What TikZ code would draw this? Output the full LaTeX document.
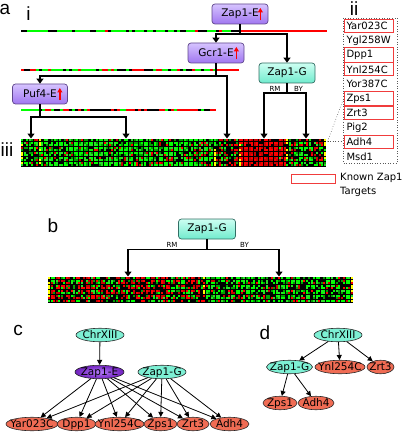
\documentclass[tikz,border=0pt]{standalone}
\usepackage{fontspec}
\setmainfont{DejaVu Sans}
\newfontfamily\lblfont{Liberation Sans}
\usetikzlibrary{arrows.meta,shapes.geometric,calc}

\definecolor{hmR}{RGB}{255,0,0}
\definecolor{hmR2}{RGB}{200,0,0}
\definecolor{hmG}{RGB}{0,255,0}
\definecolor{hmG2}{RGB}{40,225,40}
\definecolor{hmG3}{RGB}{0,160,0}
\definecolor{hmY}{RGB}{255,255,0}
\definecolor{boxEtop}{RGB}{214,196,255}
\definecolor{boxEbot}{RGB}{160,118,240}
\definecolor{boxEdraw}{RGB}{95,70,140}
\definecolor{boxGtop}{RGB}{205,255,242}
\definecolor{boxGbot}{RGB}{112,235,205}
\definecolor{boxGdraw}{RGB}{50,110,100}
\definecolor{ellC}{RGB}{125,240,212}
\definecolor{ellT}{RGB}{240,108,84}
\definecolor{ellPin}{RGB}{180,125,248}
\definecolor{ellPout}{RGB}{112,32,190}
\definecolor{tgtred}{RGB}{240,60,60}

\newcommand\hmreg[6]{% x0, ncols, y0, nrows, pR, pG
 \pgfmathtruncatemacro\hmnc{#2-1}%
 \pgfmathtruncatemacro\hmnr{#4-1}%
 \foreach \ci in {0,...,\hmnc}{%
  \foreach \ri in {0,...,\hmnr}{%
   \pgfmathrandominteger{\rv}{1}{100}%
   \def\cc{}%
   \ifnum\rv>\numexpr100-#5\relax
     \ifodd\rv\def\cc{hmR}\else\def\cc{hmR2}\fi
   \else\ifnum\rv>\numexpr100-#5-#6\relax
     \pgfmathrandominteger{\rg}{1}{4}%
     \ifcase\rg\or\def\cc{hmG}\or\def\cc{hmG2}\or\def\cc{hmG}\or\def\cc{hmG3}\fi
   \fi\fi
   \ifx\cc\empty\else\fill[\cc] ({#1+\ci*2.5},{#3+\ri*2.5}) rectangle ++(2.1,2.1);\fi
 }}}
\newcommand\hmyel[3]{% x, y0, nrows
 \foreach \ri in {1,...,#3}{%
  \pgfmathrandominteger{\rv}{1}{100}%
  \ifnum\rv>45 \fill[hmY] (#1,{#2+(\ri-1)*2.5}) rectangle ++(2.1,2.1);\fi}}
\newcommand\hmbar[5]{% x0, nseg, ytop, pR, pG
 \pgfmathtruncatemacro\hmnc{#2-1}%
 \foreach \ci in {0,...,\hmnc}{%
   \pgfmathrandominteger{\rv}{1}{100}%
   \def\cc{}%
   \ifnum\rv>\numexpr100-#4\relax\def\cc{hmR}\else\ifnum\rv>\numexpr100-#4-#5\relax\def\cc{hmG}\fi\fi
   \ifx\cc\empty\else\fill[\cc] ({#1+\ci*3},#3) rectangle ++(3,2.6);\fi}}
\newcommand\et[1]{\smash{\raisebox{-3.8pt}{\makebox[0pt]{#1}}}}

\begin{document}
\begin{tikzpicture}[x=1pt,y=-1pt,
  boxE/.style={draw=boxEdraw, line width=0.7pt, rounded corners=3pt, minimum width=56pt, minimum height=20pt, inner sep=0pt, top color=boxEtop, bottom color=boxEbot, font=\fontsize{10.5}{12}\selectfont},
  boxG/.style={draw=boxGdraw, line width=0.7pt, rounded corners=3pt, minimum width=56pt, minimum height=20pt, inner sep=0pt, top color=boxGtop, bottom color=boxGbot, font=\fontsize{10.5}{12}\selectfont},
  conn/.style={line width=1.3pt},
  arr/.style={line width=1.3pt, -{Triangle[width=7pt,length=5pt]}},
  uparr/.style={draw=red, line width=1.6pt, -{Triangle[width=5pt,length=4.5pt]}},
  small/.style={font=\fontsize{7}{8}\selectfont, inner sep=0pt},
  plbl/.style={font=\lblfont\fontsize{19}{20}\selectfont, inner sep=0pt},
  item/.style={font=\fontsize{10}{12}\selectfont, text width=44pt, align=left, minimum height=13pt, inner sep=2.5pt, anchor=center},
  tgt/.style={draw=tgtred, line width=1pt},
  ell/.style={ellipse, draw=black!85, line width=0.6pt, inner sep=0pt, minimum height=13.5pt, font=\fontsize{10.5}{12}\selectfont},
  ellc/.style={ell, fill=ellC},
  ellt/.style={ell, fill=ellT},
  earr/.style={line width=0.8pt, -{Triangle[width=5pt,length=5pt]}}
]
\useasboundingbox (0,0) rectangle (406,433);
\pgfmathsetseed{11}

% ---------- panel labels
\node[plbl] (la) at (5,9) {a};
\node[plbl] (li) at (28.5,14) {i};
\node[plbl] (lii) at (354,9) {ii};
\node[plbl] (liii) at (7,150) {iii};
\node[plbl] (lb) at (53,226) {b};
\node[plbl] (lc) at (18,330) {c};
\node[plbl] (ld) at (265,333) {d};

% ---------- bars (panel a, i)
\fill[black] (21,29.7) rectangle (327,32.3);
\hmbar{21}{73}{29.7}{8}{58}
\fill[hmR] (240,29.7) rectangle (327,32.3);

\fill[black] (21,68.7) rectangle (239,71.3);
\hmbar{21}{65}{68.7}{22}{45}
\fill[hmR] (216,68.7) rectangle (239,71.3);

\fill[black] (21,108.7) rectangle (216,111.3);
\fill[hmG] (21,108.7) rectangle (39,111.3);
\hmbar{39}{59}{108.7}{35}{18}

% ---------- heatmap iii
\fill[black] (21,139) rectangle (326,166.5);
\hmreg{21}{7}{139.2}{11}{20}{52}
\hmreg{38.5}{70}{139.2}{11}{11}{74}
\hmreg{213.5}{10}{139.2}{11}{32}{38}
\hmreg{238.5}{19}{139.2}{11}{85}{4}
\hmreg{286}{16}{139.2}{11}{30}{45}
\hmyel{21}{139.2}{11}
\hmyel{38.5}{139.2}{11}
\hmyel{213.5}{139.2}{11}
\hmyel{238.5}{139.2}{11}
\hmyel{286}{139.2}{11}
\hmyel{323.5}{139.2}{11}

% ---------- boxes panel a
\node[boxE] (zapE) at (240,14) {Zap1-E\hspace{9pt}};
\node[boxE] (gcrE) at (216,53) {Gcr1-E\hspace{9pt}};
\node[boxE, minimum width=55pt] (pufE) at (40,94) {Puf4-E\hspace{9pt}};
\node[boxG] (zapG) at (287,73) {Zap1-G};
\foreach \n in {zapE,gcrE,pufE}
  \draw[uparr] ([xshift=-8pt,yshift=-6.5pt]\n.east) -- ([xshift=-8pt,yshift=6pt]\n.east);

% ---------- connectors panel a
\coordinate (a1) at (31,138.5);
\coordinate (a2) at (126,138.5);
\coordinate (a3) at (227,138.5);
\coordinate (a4) at (264,138.5);
\coordinate (a5) at (306,138.5);
\coordinate (jE) at (240,34);
\coordinate (jG) at (216,76);
\coordinate (jP) at (40,117);
\coordinate (jZ) at (287,93);
\draw[conn] (zapE.south) -- (jE);
\draw[arr] (jE) -| (gcrE.north);
\draw[arr] (jE) -| (zapG.north);
\draw[conn] (gcrE.south) -- (jG);
\draw[arr] (jG) -| (pufE.north);
\draw[arr] (jG) -| (a3);
\draw[conn] (pufE.south) -- (jP);
\draw[arr] (jP) -| (a1);
\draw[arr] (jP) -| (a2);
\draw[conn] (zapG.south) -- (jZ);
\draw[arr] (jZ) -| (a4);
\draw[arr] (jZ) -| (a5);
\node[small] (rmA) at (275,89) {RM};
\node[small] (byA) at (298.5,89) {BY};

% ---------- list ii
\draw[dotted, line width=0.6pt, gray!70!black] (343,18) rectangle (397,163);
\coordinate (hmc) at (327.5,141.5);
\coordinate (bx1) at (343,100);
\coordinate (bx2) at (343,141.5);
\draw[dotted, line width=0.6pt, gray!70!black] (hmc) -- (bx1);
\draw[dotted, line width=0.6pt, gray!70!black] (hmc) -- (bx2);
\node[item,tgt] (l1) at (368.5,26) {Yar023C};
\node[item] (l2) at (368.5,40.5) {Ygl258W};
\node[item,tgt] (l3) at (368.5,55) {Dpp1};
\node[item,tgt] (l4) at (368.5,69.5) {Ynl254C};
\node[item] (l5) at (368.5,84) {Yor387C};
\node[item,tgt] (l6) at (368.5,98.5) {Zps1};
\node[item,tgt] (l7) at (368.5,113) {Zrt3};
\node[item] (l8) at (368.5,127.5) {Pig2};
\node[item,tgt] (l9) at (368.5,142) {Adh4};
\node[item] (l10) at (368.5,156.5) {Msd1};

% legend
\node[tgt, minimum width=44pt, minimum height=9pt, inner sep=0pt] (leg) at (313,178.5) {};
\node[font=\fontsize{10}{12}\selectfont, anchor=west, inner sep=0pt] (legt1) at (340,178) {Known Zap1};
\node[font=\fontsize{10}{12}\selectfont, anchor=west, inner sep=0pt] (legt2) at (340,192) {Targets};

% ---------- panel b
\fill[black] (48,277) rectangle (353,302.5);
\hmreg{48}{63}{277.2}{10}{46}{32}
\hmreg{205.5}{59}{277.2}{10}{12}{62}
\hmyel{48}{277.2}{10}
\hmyel{203}{277.2}{10}
\hmyel{350.5}{277.2}{10}
\node[boxG, minimum width=57pt] (zapGb) at (207,229) {Zap1-G};
\coordinate (jB) at (207,249.3);
\coordinate (b1) at (128,276.5);
\coordinate (b2) at (279,276.5);
\draw[conn] (zapGb.south) -- (jB);
\draw[arr] (jB) -| (b1);
\draw[arr] (jB) -| (b2);
\node[small] (rmB) at (172,245) {RM};
\node[small] (byB) at (244.5,245) {BY};

% ---------- panel c
\node[ellc, minimum width=48pt] (chrC) at (100,335) {\et{ChrXIII}};
\node[ell, minimum width=49pt, inner color=ellPin, outer color=ellPout] (zapEc) at (99.5,372) {\et{Zap1-E}};
\node[ellc, minimum width=48pt] (zapGc) at (162,372) {\et{Zap1-G}};
\node[ellt, minimum width=52pt] (yarC) at (32,424) {\et{Yar023C}};
\node[ellt, minimum width=39pt] (dppC) at (76.5,424) {\et{Dpp1}};
\node[ellt, minimum width=49pt] (ynlC) at (119.5,424) {\et{Ynl254C}};
\node[ellt, minimum width=33pt] (zpsC) at (160.5,424) {\et{Zps1}};
\node[ellt, minimum width=32pt] (zrtC) at (193,424) {\et{Zrt3}};
\node[ellt, minimum width=39pt] (adhC) at (229.5,424) {\et{Adh4}};
\draw[earr] (chrC) -- (zapEc);
\foreach \t in {yarC,dppC,ynlC,zpsC,zrtC,adhC}{
  \draw[earr] (zapEc) -- (\t);
  \draw[earr] (zapGc) -- (\t);
}

% ---------- panel d
\node[ellc, minimum width=48pt] (chrD) at (338,335) {\et{ChrXIII}};
\node[ellc, minimum width=46pt] (zapGd) at (289.5,367) {\et{Zap1-G}};
\node[ellt, minimum width=50pt] (ynlD) at (340,367) {\et{Ynl254C}};
\node[ellt, minimum width=27pt] (zrtD) at (380.5,367) {\et{Zrt3}};
\node[ellt, minimum width=34pt] (zpsD) at (280,403) {\et{Zps1}};
\node[ellt, minimum width=36pt] (adhD) at (316,403) {\et{Adh4}};
\draw[earr] (chrD) -- (zapGd);
\draw[earr] (chrD) -- (ynlD);
\draw[earr] (chrD) -- (zrtD);
\draw[earr] (zapGd) -- (zpsD);
\draw[earr] (zapGd) -- (adhD);
\end{tikzpicture}
\end{document}
